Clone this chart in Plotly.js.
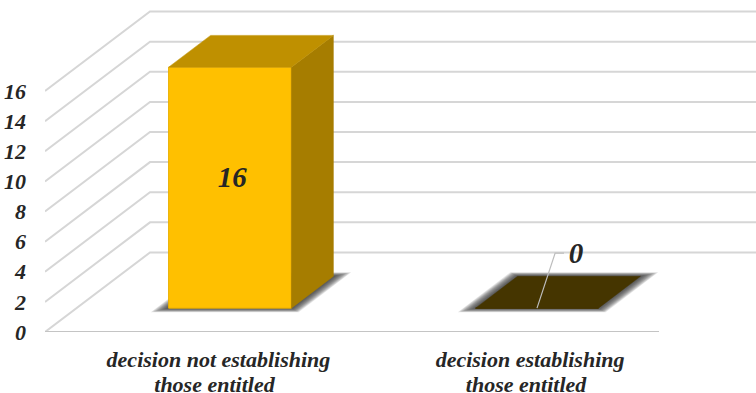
<!DOCTYPE html>
<html>
<head>
<meta charset="utf-8">
<script src="https://cdn.plot.ly/plotly-3.0.1.min.js"></script>
<style>html,body{margin:0;padding:0;background:#fff}#chart{width:756px;height:393px}</style>
</head>
<body>
<div id="chart"></div>
<script>
// Chart content
const categories = ["decision not establishing<br>those entitled", "decision establishing<br>those entitled"];
const values = [16, 0];
const valueTicks = [0, 2, 4, 6, 8, 10, 12, 14, 16];

// Oblique projection of the 3D box: depth d (0 front .. 1 back) shifts a point right and up
const SKEW_X = 0.342, SKEW_Y = 5.28;
const BAR_WIDTH = 0.4, DEPTH_FRONT = 0.3, DEPTH_BACK = 0.7;
const project = (band, value, d) => [band + SKEW_X * d, value + SKEW_Y * d];

const FONT = "'Liberation Serif','Times New Roman',serif";
const INK = "#262626";
const faces = [
  {front: "#FFC000", edge: "#EBB000", top: "#BF9000", side: "#A67D00"},
  {front: "#453500", edge: "#453500", top: "#453500", side: "#453500"}
];

function pathOf(pts, close) {
  return "M" + pts.map(p => p[0] + " " + p[1]).join("L") + (close ? "Z" : "");
}
function faceTrace(pts, color) {
  const closed = pts.concat([pts[0]]);
  return {
    type: "scatter", mode: "lines", fill: "toself", fillcolor: color,
    x: closed.map(p => p[0]), y: closed.map(p => p[1]),
    line: {color: color, width: 0.5}, hoverinfo: "skip", showlegend: false
  };
}

// Wall grid: diagonal on the side wall plus a horizontal run on the back wall
const shapes = [];
valueTicks.forEach(v => {
  const pts = [project(0, v, 0), project(0, v, 1), project(2, v, 1)];
  shapes.push({type: "path", layer: "below", xref: "x", yref: "y", path: pathOf(pts, false),
               line: {color: "#d6d6d6", width: 2}});
});
// Front edge of the floor
shapes.push({type: "path", layer: "below", xref: "x", yref: "y",
             path: pathOf([project(0, 0, 0), project(2, 0, 0)], false),
             line: {color: "#c4c4c4", width: 1.8}});

// Soft floor shadow below each box, built up from stacked translucent layers
values.forEach((_, i) => {
  const c = i + 0.5;
  for (let k = 12; k >= 1; k--) {
    const gx = k * 0.0034, gd = k * 0.0042;
    const hw = BAR_WIDTH / 2 + gx, d0 = DEPTH_FRONT - gd, d1 = DEPTH_BACK + gd;
    const pts = [project(c - hw, 0, d0), project(c + hw, 0, d0), project(c + hw, 0, d1), project(c - hw, 0, d1)];
    shapes.push({type: "path", layer: "below", xref: "x", yref: "y", path: pathOf(pts, true),
                 fillcolor: "rgba(50,50,50,0.12)", line: {width: 0}});
  }
});

const traces = [];

// Front faces
traces.push({
  type: "bar",
  x: values.map((_, i) => project(i + 0.5, 0, DEPTH_FRONT)[0]),
  y: values,
  base: values.map(() => project(0, 0, DEPTH_FRONT)[1]),
  width: BAR_WIDTH,
  marker: {color: faces.map(f => f.front), line: {color: faces.map(f => f.edge), width: 1}},
  hoverinfo: "skip", showlegend: false
});

// Side and top faces
values.forEach((v, i) => {
  const l = i + 0.5 - BAR_WIDTH / 2, r = i + 0.5 + BAR_WIDTH / 2;
  if (v > 0) {
    traces.push(faceTrace([project(r, 0, DEPTH_FRONT), project(r, 0, DEPTH_BACK), project(r, v, DEPTH_BACK), project(r, v, DEPTH_FRONT)], faces[i].side));
  }
  traces.push(faceTrace([project(l, v, DEPTH_FRONT), project(r, v, DEPTH_FRONT), project(r, v, DEPTH_BACK), project(l, v, DEPTH_BACK)], faces[i].top));
});

// Leader line for the zero-height box
const start = project(1.5, values[1], DEPTH_FRONT);
traces.push({
  type: "scatter", mode: "lines",
  x: [start[0], start[0] + 0.059, start[0] + 0.088],
  y: [start[1], start[1] + 3.65, start[1] + 3.65],
  line: {color: "#bdbdbd", width: 1.2}, hoverinfo: "skip", showlegend: false
});

// Value labels
const frontMid = project(0.5, values[0] / 2, DEPTH_FRONT);
traces.push({
  type: "scatter", mode: "text",
  x: [frontMid[0] + 0.007, start[0] + 0.127],
  y: [frontMid[1] + 0.5, start[1] + 3.45],
  text: values.map(String),
  textposition: "middle center",
  textfont: {family: FONT, size: 29, color: INK, weight: 700, style: "italic"},
  hoverinfo: "skip", showlegend: false
});

const layout = {
  width: 756, height: 393,
  margin: {l: 45, r: 0, t: 0, b: 61, pad: 0},
  paper_bgcolor: "#fff", plot_bgcolor: "#fff",
  showlegend: false,
  barmode: "overlay",
  shapes: shapes,
  xaxis: {
    type: "linear", range: [0, 711 / 307], fixedrange: true,
    showgrid: false, zeroline: false, showline: false, ticks: "",
    tickmode: "array", tickvals: [0.565, 1.58], ticktext: categories,
    ticklabelstandoff: 12,
    tickfont: {family: FONT, size: 22, color: INK, weight: 700, style: "italic"},
    automargin: false
  },
  yaxis: {
    type: "linear", range: [0, 332 / 15.06], fixedrange: true,
    showgrid: false, zeroline: false, showline: false, ticks: "",
    tickmode: "array", tickvals: valueTicks, ticktext: valueTicks.map(String),
    ticklabelstandoff: 18,
    tickfont: {family: FONT, size: 22, color: INK, weight: 700, style: "italic"},
    automargin: false
  }
};

Plotly.newPlot("chart", traces, layout, {displayModeBar: false, staticPlot: true}).then(gd => {
  // Tighten the leading of the two-line category labels and nudge the second line left
  gd.querySelectorAll(".xtick tspan.line").forEach(t => {
    const dy = t.getAttribute("dy");
    if (dy && parseFloat(dy) > 0) {
      t.setAttribute("dy", "1.14em");
      t.setAttribute("x", parseFloat(t.getAttribute("x")) - 4);
    }
  });
});
</script>
</body>
</html>
